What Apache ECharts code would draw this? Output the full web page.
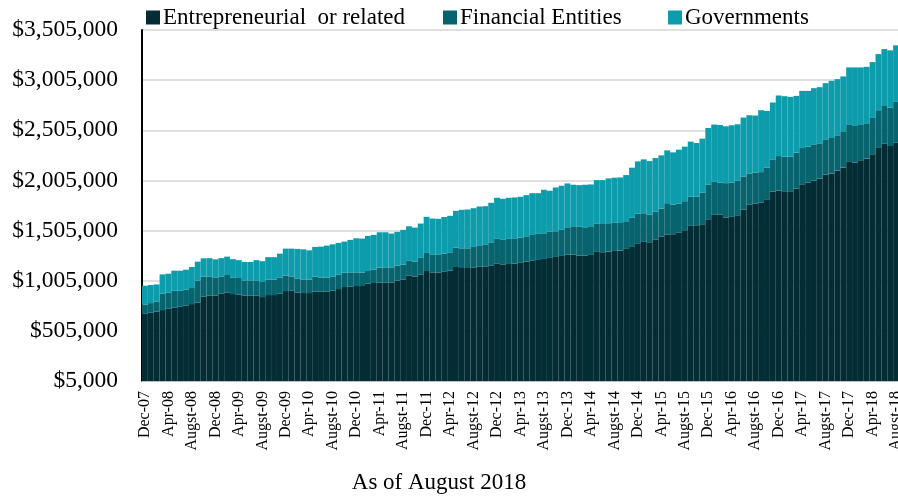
<!DOCTYPE html>
<html>
<head>
<meta charset="utf-8">
<script src="https://cdn.jsdelivr.net/npm/echarts@6/dist/echarts.min.js"></script>
<style>
  html, body { margin: 0; padding: 0; background: #fff; }
  #chart { width: 898px; height: 496px; }
</style>
</head>
<body>
<div id="chart"></div>
<script>
// monthly, Dec-07 .. Aug-18 (values in thousands of dollars)
const monthNames = ['Jan', 'Feb', 'Mar', 'Apr', 'May', 'Jun', 'Jul', 'Augst', 'Sep', 'Oct', 'Nov', 'Dec']
const firstYear = 2007, firstMonth = 11, monthCount = 129

const entrepreneurial = [
  675, 685, 698, 712, 725, 735, 745, 755, 772, 788, 848, 858, 858, 875, 885, 872,
  868, 855, 855, 855, 842, 862, 862, 875, 902, 905, 888, 882, 882, 898, 895, 895,
  905, 922, 942, 948, 952, 952, 975, 982, 985, 988, 985, 1005, 1018, 1058, 1045, 1068,
  1102, 1088, 1085, 1098, 1105, 1142, 1132, 1132, 1138, 1148, 1148, 1158, 1178, 1168, 1172, 1175,
  1188, 1195, 1208, 1212, 1222, 1232, 1242, 1252, 1265, 1265, 1255, 1255, 1262, 1292, 1288, 1295,
  1302, 1305, 1322, 1348, 1378, 1392, 1388, 1415, 1445, 1465, 1468, 1482, 1508, 1552, 1558, 1568,
  1618, 1662, 1665, 1635, 1642, 1658, 1715, 1762, 1775, 1782, 1818, 1895, 1905, 1898, 1898, 1925,
  1968, 1982, 2005, 2025, 2062, 2075, 2105, 2135, 2195, 2182, 2205, 2222, 2265, 2335, 2372, 2348,
  2382
]
const financial = [
  93, 97, 100, 163, 163, 170, 160, 160, 160, 217, 197, 190, 180, 173, 177, 166,
  164, 153, 153, 153, 150, 153, 153, 163, 153, 143, 140, 136, 133, 147, 143, 140,
  143, 146, 143, 140, 136, 133, 127, 133, 150, 150, 153, 150, 147, 150, 150, 164,
  180, 180, 183, 177, 183, 193, 196, 196, 210, 210, 214, 230, 244, 244, 250, 253,
  247, 253, 260, 260, 256, 263, 256, 260, 273, 283, 287, 283, 286, 280, 290, 283,
  280, 283, 276, 284, 297, 286, 274, 277, 280, 313, 297, 293, 290, 290, 287, 314,
  347, 333, 317, 343, 340, 344, 330, 313, 307, 306, 314, 320, 343, 344, 344, 357,
  360, 360, 360, 350, 353, 353, 350, 360, 370, 366, 360, 353, 363, 370, 383, 384,
  406
]
const governments = [
  187, 180, 170, 193, 187, 200, 200, 200, 210, 190, 183, 182, 180, 182, 183, 182,
  178, 184, 184, 202, 208, 225, 225, 237, 270, 277, 294, 300, 293, 297, 307, 320,
  320, 314, 310, 324, 340, 340, 350, 347, 353, 350, 337, 337, 347, 340, 340, 343,
  360, 357, 354, 365, 364, 367, 384, 387, 380, 387, 386, 394, 410, 410, 410, 407,
  407, 410, 410, 406, 434, 407, 437, 440, 437, 414, 416, 424, 417, 436, 430, 447,
  450, 447, 460, 500, 520, 537, 536, 536, 530, 527, 520, 537, 544, 550, 533, 540,
  563, 567, 576, 567, 573, 563, 587, 580, 570, 617, 566, 567, 604, 603, 596, 566,
  570, 556, 560, 560, 560, 570, 560, 547, 567, 584, 567, 563, 557, 560, 560, 570,
  564
]

const categories = []
for (let i = 0; i < monthCount; i++) {
  const m = (firstMonth + i) % 12
  const y = firstYear + Math.floor((firstMonth + i) / 12)
  categories.push(monthNames[m] + '-' + String(y % 100).padStart(2, '0'))
}

const font = 'Liberation Serif'
const colors = ['#032c34', '#07646e', '#0c9cac']
const names = ['Entrepreneurial  or related', 'Financial Entities', 'Governments']
const seriesData = [entrepreneurial, financial, governments]

const legendLeft = [141, 438, 663]
const myChart = echarts.init(document.getElementById('chart'))
myChart.setOption({
  animation: false,
  color: colors,
  legend: names.map((n, i) => ({
    data: [n],
    left: legendLeft[i],
    top: 1,
    icon: 'rect',
    itemWidth: 14,
    itemHeight: 14,
    itemGap: 0,
    textStyle: { fontFamily: font, fontSize: 23, color: '#000', padding: [0, 0, 0, -2] }
  })),
  title: {
    text: 'As of August 2018',
    left: 434,
    textAlign: 'center',
    bottom: -3,
    textStyle: { fontFamily: font, fontSize: 23, fontWeight: 'normal', color: '#000' }
  },
  // v6 would shrink the grid to keep the last label inside; the original lets it run off the edge
  grid: { left: 142, top: 30, width: 757, bottom: 115, outerBoundsMode: 'none', containLabel: false },
  xAxis: {
    type: 'category',
    data: categories,
    axisTick: { show: false },
    axisLine: { lineStyle: { color: '#bfbfbf', width: 1 } },
    axisLabel: {
      interval: 3,
      rotate: 90,
      fontFamily: font,
      fontSize: 16,
      color: '#000',
      margin: 10
    }
  },
  yAxis: {
    type: 'value',
    min: 5000,
    max: 3505000,
    interval: 500000,
    axisLine: { show: true, lineStyle: { color: '#000', width: 2 } },
    axisTick: { show: false },
    splitLine: { lineStyle: { color: '#e0e0e0', width: 2 } },
    axisLabel: {
      fontFamily: font,
      fontSize: 23.5,
      color: '#000',
      margin: 24,
      formatter: v => '$' + v.toLocaleString('en-US')
    }
  },
  series: names.map((n, i) => ({
    name: n,
    type: 'bar',
    stack: 'total',
    barCategoryGap: '0%',
    data: seriesData[i].map(v => v * 1000)
  }))
})
</script>
</body>
</html>
